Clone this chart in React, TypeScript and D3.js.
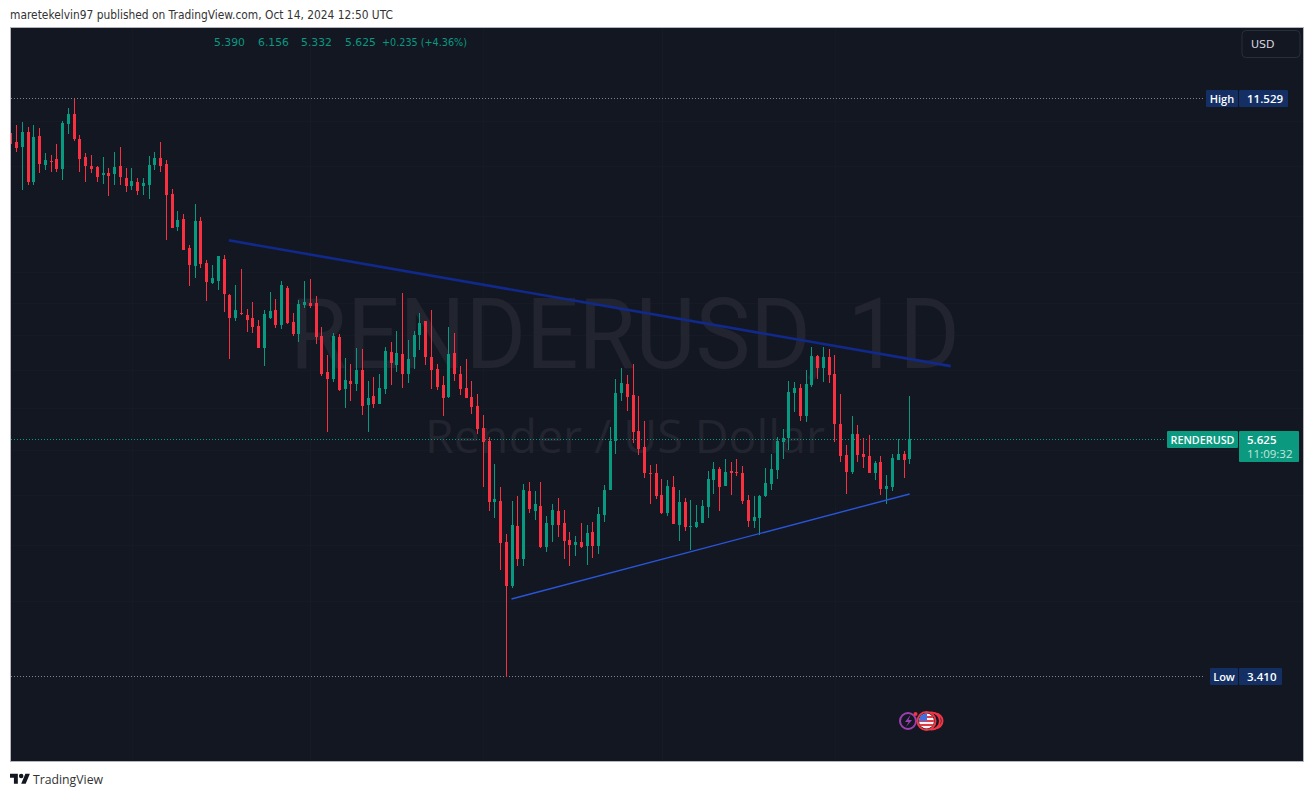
import React from "react";
import * as d3 from "d3";

const opens = [
  10.713,10.518,10.408,10.742,9.667,10.652,10.020,10.105,10.148,9.936,
  10.925,11.158,10.584,10.191,9.999,9.978,9.812,9.854,9.832,9.999,
  9.749,9.586,9.667,9.586,9.606,10.020,10.169,10.041,9.426,8.793,
  8.942,8.412,8.098,8.904,8.149,7.813,7.846,8.218,7.618,7.258,
  7.335,7.304,7.258,7.136,6.813,7.258,7.381,7.151,7.732,7.197,
  7.017,7.460,7.491,7.491,6.988,6.477,6.382,6.973,6.248,6.355,
  6.315,6.504,6.041,6.157,6.054,6.248,6.756,6.573,6.727,6.450,
  6.684,7.002,7.212,6.684,6.518,6.301,6.144,6.741,6.450,6.261,
  6.144,6.029,5.755,5.599,4.923,4.934,4.525,4.125,4.680,4.366,
  5.039,4.831,4.882,4.478,4.690,4.831,4.710,4.544,4.497,4.525,
  4.488,4.621,4.488,4.790,5.050,5.599,6.195,6.315,6.169,5.719,
  5.529,5.234,5.234,4.997,4.811,5.082,4.690,4.923,4.670,4.670,
  4.710,4.872,5.157,5.278,5.093,5.256,5.245,5.234,4.944,4.730,
  4.760,4.986,5.114,5.267,5.588,5.635,6.195,6.261,5.902,6.301,
  6.699,6.532,6.684,6.450,5.804,5.437,5.245,5.684,5.448,5.425,
  5.234,5.357,5.061,5.082,5.380,5.448,5.390,
];
const highs = [
  10.840,10.902,10.971,10.856,10.902,10.833,10.277,10.234,10.474,10.994,
  11.300,11.529,10.674,10.277,10.234,9.999,10.191,9.957,10.299,10.408,
  9.957,9.957,9.749,9.749,10.212,10.299,10.518,10.126,9.525,9.094,
  9.036,8.465,9.229,8.980,8.201,8.115,8.271,8.288,7.635,7.781,
  8.047,7.397,7.507,7.227,7.381,7.667,7.554,7.846,7.764,7.335,
  7.538,7.846,7.880,7.602,7.121,6.713,7.032,7.017,6.670,6.587,
  6.813,6.798,6.355,6.409,6.450,6.828,6.900,7.061,7.651,6.929,
  7.061,7.335,7.212,7.381,6.587,6.422,7.121,7.032,6.559,6.656,
  6.355,6.182,5.915,5.647,5.335,5.082,4.602,4.934,4.986,5.114,
  5.136,5.039,5.136,4.780,4.903,4.965,4.841,4.621,4.583,4.710,
  4.690,4.720,4.872,5.103,5.767,6.381,6.532,6.436,6.587,6.157,
  5.841,5.323,5.335,5.168,5.157,5.201,5.050,4.965,4.944,4.892,
  4.944,5.256,5.357,5.301,5.391,5.357,5.391,5.312,4.997,4.986,
  4.997,5.289,5.448,5.647,5.743,6.355,6.341,6.315,6.504,6.828,
  6.713,6.828,6.798,6.713,6.182,5.552,5.902,5.792,5.635,5.672,
  5.369,5.425,5.212,5.448,5.623,5.483,6.156,
];
const lows = [
  9.999,10.299,9.505,9.606,9.606,9.854,9.915,9.874,9.874,9.708,
  10.697,10.540,9.874,9.667,9.854,9.667,9.626,9.386,9.606,9.606,
  9.465,9.505,9.406,9.406,9.327,9.915,9.874,8.555,8.774,8.719,
  8.376,7.764,7.896,8.064,7.523,7.797,7.699,7.350,6.656,7.212,
  7.304,7.047,7.032,6.813,6.559,7.242,7.106,7.091,7.167,6.988,
  6.900,7.412,7.412,6.871,6.422,5.707,6.341,6.222,6.003,6.092,
  6.222,5.915,5.707,6.003,6.054,6.182,6.301,6.477,6.261,6.328,
  6.518,6.784,6.573,6.248,6.235,5.902,6.131,6.355,6.169,6.131,
  5.928,5.684,5.082,4.831,4.760,4.266,3.410,4.107,4.302,4.302,
  4.811,4.740,4.469,4.431,4.525,4.573,4.366,4.302,4.394,4.469,
  4.311,4.376,4.413,4.720,5.050,5.448,6.092,5.965,5.576,5.437,
  5.179,4.903,4.955,4.800,4.780,4.700,4.535,4.631,4.450,4.660,
  4.710,4.760,5.007,4.831,5.093,4.997,5.201,4.903,4.670,4.660,
  4.592,4.976,5.050,5.168,5.391,5.494,5.953,5.841,5.829,6.275,
  6.381,6.341,6.328,5.588,5.357,5.007,5.223,5.357,5.289,5.234,
  5.157,4.997,4.903,5.039,5.380,5.179,5.332,
];
const closes = [
  10.474,10.386,10.742,9.667,10.629,10.041,10.126,10.084,9.936,10.948,
  11.158,10.584,10.148,9.999,9.936,9.770,9.854,9.791,9.978,9.770,
  9.586,9.687,9.485,9.646,10.020,10.169,9.999,9.406,8.774,8.923,
  8.376,8.115,8.904,8.132,7.830,7.896,8.271,7.635,7.258,7.381,
  7.319,7.227,7.121,6.813,7.319,7.365,7.151,7.781,7.182,7.017,
  7.475,7.507,7.444,6.973,6.450,6.382,6.988,6.235,6.368,6.315,
  6.504,6.029,6.131,6.054,6.261,6.770,6.600,6.741,6.450,6.656,
  7.002,7.182,6.684,6.504,6.275,6.131,6.727,6.450,6.248,6.131,
  6.016,5.743,5.588,4.923,4.955,4.516,4.125,4.690,4.366,5.050,
  4.851,4.903,4.478,4.710,4.841,4.690,4.535,4.497,4.525,4.478,
  4.612,4.488,4.800,5.050,5.599,6.195,6.328,6.144,5.707,5.506,
  5.234,5.223,4.986,4.811,5.093,4.700,4.923,4.670,4.680,4.720,
  4.882,5.168,5.278,5.082,5.245,5.234,5.234,4.934,4.730,4.770,
  4.986,5.125,5.278,5.599,5.635,6.208,6.261,5.902,6.315,6.699,
  6.532,6.684,6.436,5.804,5.425,5.245,5.684,5.437,5.414,5.234,
  5.346,5.061,5.093,5.403,5.448,5.380,5.625,
];
const gridPrices = [4, 4.5, 5, 5.5, 6, 6.5, 7, 7.5, 8, 9, 10, 11];
const gridBars = [21, 52, 82, 113, 143];
const resistanceLine = [
  { bar: 37.83, price: 8.55 },
  { bar: 163.1, price: 6.559 },
];
const supportLine = [
  { bar: 86.88, price: 4.015 },
  { bar: 155.97, price: 5.01 },
];
const highPrice = 11.529;
const lowPrice = 3.41;
const lastPrice = 5.625;
const legendValues = [
  { label: "5.390", x: 214, w: 31 },
  { label: "6.156", x: 258, w: 31 },
  { label: "5.332", x: 301, w: 31 },
  { label: "5.625", x: 345, w: 31 },
  { label: "+0.235 (+4.36%)", x: 382, w: 85 },
];

const UP = "#089981";
const DOWN = "#F9303F";
const UI = "'DejaVu Sans', sans-serif";
const TAG = "'Open Sans', sans-serif";

const y = d3.scaleLog().domain([lowPrice, highPrice]).range([676.5, 98.5]);
const x = d3.scaleLinear().domain([0, 156]).range([10.8, 909.8]);
const lineGen = d3
  .line<{ bar: number; price: number }>()
  .x((d) => x(d.bar))
  .y((d) => y(d.price));

function Candle({ i }: { i: number }) {
  const o = opens[i];
  const c = closes[i];
  const col = Math.floor(x(i));
  const color = c >= o ? UP : DOWN;
  const top = Math.round(y(Math.max(o, c)));
  const bot = Math.round(y(Math.min(o, c)));
  const wt = Math.round(y(highs[i]));
  const wb = Math.round(y(lows[i]));
  return (
    <g fill={color}>
      <rect x={col} y={wt} width={1} height={Math.max(1, wb - wt)} />
      <rect x={col - 1} y={top} width={3} height={Math.max(1, bot - top)} />
    </g>
  );
}

function PriceTag({ name, value, x0, x1, x2, yc, fill }: any) {
  return (
    <g>
      <rect x={x0} y={yc - 8.5} width={x1 - x0} height={17} fill={fill} rx={1} />
      <rect x={x1 + 1} y={yc - 8.5} width={x2 - x1 - 1} height={17} fill={fill} rx={1} />
      <text x={(x0 + x1) / 2} y={yc + 4} textAnchor="middle" fontFamily={TAG} fontSize={11} fontWeight={600} fill="#fff">
        {name}
      </text>
      <text x={1247} y={yc + 4} fontFamily={TAG} fontSize={11.5} fontWeight={600} fill="#fff">
        {value}
      </text>
    </g>
  );
}

export default function App() {
  const yHigh = 98.5;
  const yLow = 676.5;
  const yLast = Math.round(y(lastPrice)) + 0.5;
  return (
    <svg
      width={1314}
      height={797}
      viewBox="0 0 1314 797"
      style={{ position: "fixed", left: 0, top: 0, background: "#fff" }}
    >
      <defs>
        <clipPath id="pane">
          <rect x={11} y={28} width={1292} height={733} />
        </clipPath>
        <clipPath id="flag">
          <circle cx={926.5} cy={721} r={7.5} />
        </clipPath>
      </defs>

      <text x={10} y={19} fontFamily={UI} fontSize={11.4} fill="#333" textLength={383} lengthAdjust="spacingAndGlyphs">
        maretekelvin97 published on TradingView.com, Oct 14, 2024 12:50 UTC
      </text>

      <rect x={10.5} y={27.5} width={1293} height={734} fill="#131722" stroke="#b2b5be" strokeWidth={1} />

      <g clipPath="url(#pane)">
        {gridPrices.map((p) => (
          <line key={p} x1={11} x2={1303} y1={Math.round(y(p)) + 0.5} y2={Math.round(y(p)) + 0.5} stroke="#161a25" />
        ))}
        {gridBars.map((b) => (
          <line key={b} y1={28} y2={761} x1={Math.round(x(b)) + 0.5} x2={Math.round(x(b)) + 0.5} stroke="#161a25" />
        ))}

        <text x={625} y={368} textAnchor="middle" fontFamily="Roboto, sans-serif" fontSize={98} fill="#22252f" textLength={670} lengthAdjust="spacingAndGlyphs">
          RENDERUSD, 1D
        </text>
        <text x={625} y={453} textAnchor="middle" fontFamily="'Open Sans', sans-serif" fontSize={46} fill="#22252f" textLength={400} lengthAdjust="spacingAndGlyphs">
          Render / US Dollar
        </text>

        <line x1={11} x2={1205} y1={yHigh} y2={yHigh} stroke="#80838e" strokeDasharray="1 2" />
        <line x1={11} x2={1205} y1={yLow} y2={yLow} stroke="#80838e" strokeDasharray="1 2" />
        <line x1={11} x2={1166} y1={yLast} y2={yLast} stroke={UP} strokeDasharray="1 2" />

        {opens.map((_, i) => (
          <Candle key={i} i={i} />
        ))}

        <path d={lineGen(resistanceLine) ?? ""} fill="none" stroke="#10298a" strokeWidth={2.6} />
        <path d={lineGen(supportLine) ?? ""} fill="none" stroke="#2a55d8" strokeWidth={1.4} />
      </g>

      {legendValues.map((d) => (
        <text key={d.label} x={d.x} y={46} fontFamily={UI} fontSize={11} fill={UP} textLength={d.w} lengthAdjust="spacingAndGlyphs">
          {d.label}
        </text>
      ))}

      <rect x={1242} y={30.5} width={58} height={27} rx={4} fill="#131722" stroke="#2a2e39" />
      <text x={1251} y={48} fontFamily={UI} fontSize={11} fill="#d1d4dc">
        USD
      </text>

      <PriceTag name="High" value="11.529" x0={1206} x1={1238} x2={1288} yc={98.5} fill="#132f63" />
      <PriceTag name="Low" value="3.410" x0={1210} x1={1238} x2={1282} yc={676.5} fill="#132f63" />

      <rect x={1167} y={431} width={71} height={17} fill="#0b9a80" rx={1} />
      <rect x={1239} y={431} width={60} height={31} fill="#0b9a80" rx={1} />
      <text x={1202.5} y={443.5} textAnchor="middle" fontFamily={TAG} fontSize={11} fontWeight={600} fill="#fff" textLength={64} lengthAdjust="spacingAndGlyphs">
        RENDERUSD
      </text>
      <text x={1247} y={443.5} fontFamily={TAG} fontSize={11.5} fontWeight={600} fill="#fff">
        5.625
      </text>
      <text x={1247} y={458} fontFamily={TAG} fontSize={11.5} fill="#c3e6df">
        11:09:32
      </text>

      <g>
        <circle cx={908} cy={721} r={8} fill="none" stroke="#9c3fb0" strokeWidth={2} />
        <path d="M910.5 715 L905 722 H908.5 L906 727 L912 720 H908.5 Z" fill="#9c3fb0" />
        <circle cx={915.5} cy={714} r={2} fill="#f23645" />
        <circle cx={935} cy={721} r={7.5} fill="#131722" stroke="#f23645" strokeWidth={2} />
        <circle cx={931.5} cy={721} r={8.5} fill="#131722" stroke="#f23645" strokeWidth={2} />
        <circle cx={926.5} cy={721} r={9} fill="#131722" stroke="#f23645" strokeWidth={2} />
        <g clipPath="url(#flag)">
          <rect x={918} y={713} width={17} height={16} fill="#f4f4f6" />
          <rect x={918} y={716} width={17} height={2} fill="#e23b45" />
          <rect x={918} y={720} width={17} height={2} fill="#e23b45" />
          <rect x={918} y={724} width={17} height={2} fill="#e23b45" />
          <rect x={919} y={713} width={8} height={8} fill="#3f6fe0" />
        </g>
      </g>

      <g transform="translate(10,771.5) scale(0.56)" fill="#131722">
        <path d="M14 22H7V11H0V4h14v18zM28 22h-8l7.5-18h8L28 22z" />
        <circle cx={20} cy={8} r={4} />
      </g>
      <text x={33} y={784} fontFamily="'Open Sans', sans-serif" fontSize={13} fill="#333" textLength={70} lengthAdjust="spacingAndGlyphs">
        TradingView
      </text>
    </svg>
  );
}
